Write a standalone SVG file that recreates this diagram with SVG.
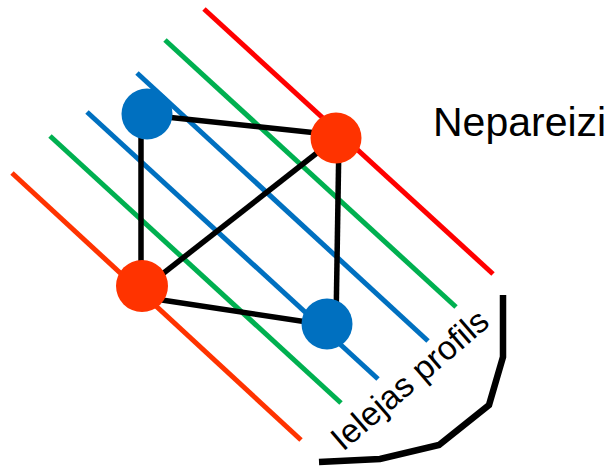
<svg xmlns="http://www.w3.org/2000/svg" width="614" height="466" viewBox="0 0 614 466">
<style>
.ln{stroke-width:5;fill:none}
.edge{stroke:#000;stroke-width:5.5;fill:none}
.red{stroke:#FF0000}.org{stroke:#FF3300}.grn{stroke:#00B050}.blu{stroke:#0070C0}
.nb{fill:#0070C0}.nr{fill:#FF3300}
text{font-family:"Liberation Sans",Arial,sans-serif;fill:#000}
</style>
<g id="profiles">
<line class="ln red" x1="204" y1="9" x2="493" y2="274"/>
<line class="ln grn" x1="165" y1="40" x2="456" y2="307"/>
<line class="ln blu" x1="137" y1="73" x2="428" y2="341"/>
<line class="ln blu" x1="87" y1="112" x2="378" y2="379"/>
<line class="ln grn" x1="50" y1="136" x2="341" y2="403"/>
<line class="ln org" x1="12" y1="173" x2="301" y2="440"/>
</g>
<g id="connectors">
<line class="edge" x1="147" y1="115" x2="336" y2="135"/>
<line class="edge" x1="141" y1="115" x2="141" y2="286"/>
<line class="edge" x1="142" y1="290" x2="336" y2="138"/>
<line class="edge" x1="339" y1="137" x2="336" y2="324"/>
<line class="edge" x1="142" y1="297" x2="327" y2="325"/>
</g>
<g id="n1"><circle class="nb" cx="147" cy="114" r="25.5"/></g>
<g id="n2"><circle class="nr" cx="336" cy="138" r="25.5"/></g>
<g id="n3"><circle class="nr" cx="142" cy="286" r="26"/></g>
<g id="n4"><circle class="nb" cx="327" cy="324" r="25.5"/></g>
<g id="label1"><text x="433" y="136" font-size="41">Nepareizi</text></g>
<g id="label2"><text x="0" y="0" font-size="33.5" transform="translate(343,452) rotate(-40.7)">Ielejas profils</text></g>
<g id="bracket"><polyline points="503,295 503,357 489,405 439,445 380,459 319,462" fill="none" stroke="#000" stroke-width="6.5"/></g>
</svg>
